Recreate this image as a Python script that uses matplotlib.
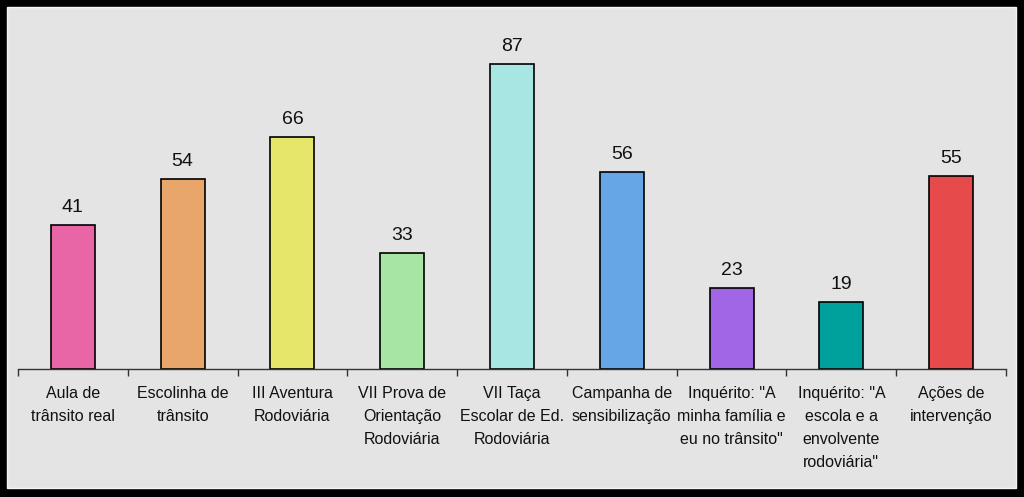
import matplotlib.pyplot as plt
from matplotlib.patches import Rectangle
import numpy as np

categories = [
    "Aula de\ntrânsito real",
    "Escolinha de\ntrânsito",
    "III Aventura\nRodoviária",
    "VII Prova de\nOrientação\nRodoviária",
    "VII Taça\nEscolar de Ed.\nRodoviária",
    "Campanha de\nsensibilização",
    "Inquérito: \"A\nminha família e\neu no trânsito\"",
    "Inquérito: \"A\nescola e a\nenvolvente\nrodoviária\"",
    "Ações de\nintervenção",
]
values = [41, 54, 66, 33, 87, 56, 23, 19, 55]
colors = ["#e865a6", "#e8a66a", "#e6e66a", "#a6e6a2", "#a8e6e4",
          "#66a6e6", "#a066e6", "#00a09c", "#e64a4a"]

W, H = 1024, 497
fig = plt.figure(figsize=(W / 100, H / 100), dpi=100)
fig.patch.set_facecolor("black")
# gray panel inside the black frame
fig.add_artist(Rectangle((7 / W, 9 / H), (1016 - 7) / W, (490 - 9) / H,
                         transform=fig.transFigure, facecolor="#e4e4e4",
                         edgecolor="#f4f4f4", linewidth=1, zorder=0))

ax = fig.add_axes([18 / W, (H - 369) / H, (1006 - 18) / W, (369 - 18) / H])
ax.set_facecolor("none")
x = np.arange(len(categories))
ax.bar(x, values, width=0.4, color=colors, edgecolor="black", linewidth=1.2, zorder=2)
for xi, v in zip(x, values):
    ax.text(xi, v + 2.6, str(v), ha="center", va="bottom", fontsize=14,
            family="Liberation Sans", color="#111111")

ax.set_xlim(-0.5, len(categories) - 0.5)
ax.set_ylim(0, 100)
ax.set_xticks(x)
ax.set_xticklabels(categories, fontsize=11.5, family="Liberation Sans",
                   va="top", linespacing=1.68, color="#111111")
ax.tick_params(axis="x", which="major", length=0, pad=12)
ax.set_xticks(np.arange(len(categories) + 1) - 0.5, minor=True)
ax.tick_params(axis="x", which="minor", length=5, width=1, color="#333333", direction="out")
ax.set_yticks([])
for s in ["top", "right", "left"]:
    ax.spines[s].set_visible(False)
ax.spines["bottom"].set_color("#333333")
ax.spines["bottom"].set_linewidth(1)

fig.savefig("out.png", dpi=100, facecolor=fig.get_facecolor())
